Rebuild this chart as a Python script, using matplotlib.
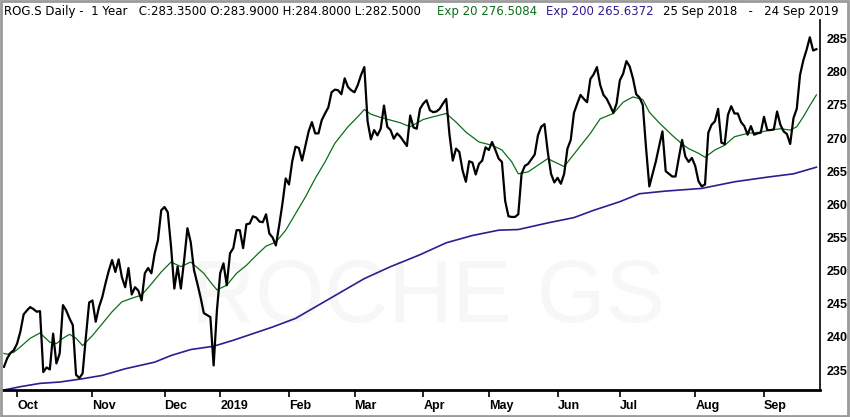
import numpy as np
import pandas as pd
import matplotlib
matplotlib.use('Agg')
import matplotlib.pyplot as plt
from matplotlib.patches import Rectangle

# Trading days at SIX (Swiss exchange), 25 Sep 2018 - 24 Sep 2019
holidays = ['2018-12-24', '2018-12-25', '2018-12-26', '2018-12-31',
            '2019-01-01', '2019-01-02', '2019-04-19', '2019-04-22',
            '2019-05-01', '2019-05-30', '2019-06-10', '2019-08-01']
days = pd.bdate_range('2018-09-25', '2019-09-24')
days = days[~days.isin(pd.to_datetime(holidays))]

# daily closes
close = [
    235.5, 236.8, 237.6, 238.0, 239.0, 240.8, 243.4, 244.0, 244.5, 244.2,
    243.8, 243.9, 234.7, 235.4, 235.1, 240.5, 236.0, 237.5, 244.8, 244.0,
    242.8, 241.8, 234.3, 233.8, 234.5, 240.0, 245.2, 245.5, 242.3, 244.5,
    246.0, 248.1, 250.0, 251.6, 249.8, 251.7, 249.0, 247.5, 250.4, 246.4,
    247.5, 247.0, 245.5, 249.6, 250.4, 249.6, 252.6, 254.6, 259.1, 259.6,
    258.8, 253.6, 247.3, 250.6, 247.3, 251.6, 256.4, 254.3, 250.1, 248.1,
    246.0, 243.6, 243.3, 243.0, 235.7, 244.0, 249.6, 251.1, 247.8, 252.6,
    253.4, 256.1, 256.1, 253.4, 257.0, 257.1, 258.2, 258.0, 257.4, 257.3,
    258.5, 255.6, 255.0, 253.8, 256.8, 260.1, 263.9, 263.0, 266.5, 268.7,
    268.5, 266.6, 268.8, 271.0, 272.4, 270.7, 270.7, 272.7, 273.7, 274.6,
    276.9, 277.3, 277.2, 276.6, 279.0, 277.7, 277.2, 276.9, 278.0, 279.5,
    280.7, 272.5, 269.8, 271.2, 270.4, 271.4, 274.9, 271.7, 271.2, 269.9,
    270.7, 270.2, 269.5, 268.8, 273.4, 271.6, 271.4, 274.4, 275.2, 275.7,
    274.2, 273.9, 274.0, 274.4, 275.2, 275.9, 270.5, 266.6, 268.4, 267.9,
    265.1, 263.4, 266.5, 266.3, 264.5, 266.1, 266.6, 268.6, 268.2, 269.4,
    268.2, 266.9, 266.4, 260.5, 258.2, 258.1, 258.1, 258.5, 264.6, 265.8,
    266.1, 266.8, 267.5, 270.4, 271.7, 272.1, 267.9, 264.6, 263.3, 264.0,
    263.1, 264.6, 268.4, 269.7, 273.8, 275.2, 276.5, 275.9, 275.4, 278.9,
    279.6, 280.7, 278.0, 276.5, 275.9, 274.9, 273.8, 275.2, 278.7, 279.7,
    281.6, 280.8, 279.0, 276.6, 276.1, 275.0, 268.5, 262.7, 264.6, 266.5,
    268.8, 271.0, 265.0, 264.6, 264.2, 264.2, 267.0, 269.7, 267.2, 266.4,
    267.0, 265.8, 263.5, 262.7, 263.0, 270.8, 272.0, 272.5, 274.4, 269.3,
    269.1, 273.5, 274.8, 273.7, 273.7, 272.4, 271.8, 270.5, 271.8, 270.5,
    270.7, 270.8, 273.2, 271.2, 271.2, 271.3, 274.0, 272.0, 271.0, 270.6,
    269.1, 273.0, 274.4, 279.5, 281.7, 283.3, 285.2, 283.2, 283.4,
]

# Exp 20 read at some of the trading days (day number, value)
ema20_day = [0, 1, 3, 5, 8, 11, 14, 16, 18, 20, 22, 24, 27, 30, 33, 36, 40, 42,
             45, 48, 51, 54, 57, 61, 63, 65, 68, 71, 74, 77, 80, 83, 86, 89, 92,
             95, 98, 101, 105, 108, 110, 112, 115, 118, 121, 124, 128, 131, 135,
             138, 141, 145, 149, 152, 155, 157, 160, 163, 166, 168, 171, 175,
             179, 182, 186, 189, 192, 195, 197, 200, 204, 207, 209, 212, 214,
             217, 220, 223, 227, 231, 234, 237, 240, 242, 244, 246, 248]
ema20 = [237.5, 237.4, 237.7, 238.5, 239.8, 240.6, 239.2, 239.0, 239.8, 240.4,
         239.8, 238.7, 240.2, 242.0, 243.8, 245.3, 246.0, 246.3, 248.0, 249.8,
         251.3, 250.6, 251.3, 249.6, 248.3, 247.1, 247.8, 249.6, 250.8, 252.3,
         253.7, 254.3, 256.1, 258.6, 261.1, 263.9, 266.4, 269.2, 271.7, 273.2,
         274.3, 273.6, 273.1, 272.7, 272.3, 271.7, 272.8, 273.2, 273.7, 272.4,
         270.9, 269.4, 268.9, 268.2, 266.4, 264.6, 264.9, 265.9, 266.9, 266.4,
         265.7, 268.2, 270.7, 272.9, 273.7, 275.4, 276.2, 275.8, 273.9, 272.3,
         270.4, 269.1, 268.4, 267.7, 267.1, 268.2, 268.9, 270.2, 270.7, 270.9,
         271.2, 271.4, 271.2, 271.7, 273.2, 274.9, 276.5]

# Exp 200
ema200_day = [0, 5, 11, 17, 24, 30, 37, 46, 51, 57, 64, 70, 76, 82, 89, 96, 103,
              110, 118, 127, 135, 143, 151, 157, 166, 174, 180, 188, 194, 202,
              213, 223, 233, 241, 248]
ema200 = [232.0, 232.5, 233.0, 233.2, 233.7, 234.2, 235.2, 236.2, 237.2, 238.1,
          238.6, 239.5, 240.5, 241.5, 242.8, 244.8, 246.8, 248.8, 250.6, 252.4,
          254.2, 255.3, 256.1, 256.2, 257.2, 258.0, 259.1, 260.4, 261.6, 262.0,
          262.4, 263.4, 264.1, 264.6, 265.6]

month_names = ['Oct', 'Nov', 'Dec', '2019', 'Feb', 'Mar', 'Apr', 'May', 'Jun',
               'Jul', 'Aug', 'Sep']
price_ticks = [235, 240, 245, 250, 255, 260, 265, 270, 275, 280, 285]

green = '#0b6e1a'
purple = '#341a8e'

x = np.arange(len(days))
ym = days.to_period('M')
month_start = [i for i in range(1, len(days)) if ym[i] != ym[i - 1]]

fig = plt.figure(figsize=(8.5, 4.17), dpi=100)
ax = fig.add_axes([3 / 850, 1 - 390 / 417, 817 / 850, 370 / 417])

ax.text(0.52, 0.245, 'ROCHE GS', transform=ax.transAxes, ha='center',
        va='center', fontsize=64, color='#f7f7f7', zorder=0,
        family='Liberation Sans')

ax.plot(np.array(ema200_day), ema200, color=purple, lw=1.2, zorder=2)
ax.plot(np.array(ema20_day), ema20, color=green, lw=0.9, zorder=3)
ax.plot(x, close, color='black', lw=1.6, zorder=4)

ax.set_xlim(-0.3, 249.1)
ax.set_ylim(232.0, 287.8)

for s in ['top', 'left']:
    ax.spines[s].set_visible(False)
ax.spines['bottom'].set_linewidth(2)
ax.spines['right'].set_linewidth(1.2)

ax.yaxis.tick_right()
ax.set_yticks(price_ticks)
ax.set_yticklabels([str(t) for t in price_ticks])
ax.tick_params(axis='y', direction='out', length=0, pad=5, labelsize=9)
ax.set_xticks(month_start)
ax.set_xticklabels(month_names, ha='left')
ax.tick_params(axis='x', direction='out', length=5, width=1.2, pad=2,
               labelsize=9)
for lab in ax.get_xticklabels() + ax.get_yticklabels():
    lab.set_fontweight('bold')
    lab.set_family('Liberation Sans')

# header
yh = 1 - 12 / 417
fig.text(4 / 850, yh, 'ROG.S Daily -  1 Year   C:283.3500 O:283.9000 '
         'H:284.8000 L:282.5000', fontsize=8.5, va='center')
fig.text(437 / 850, yh, 'Exp 20 276.5084', fontsize=8.5, va='center',
         color=green)
fig.text(546 / 850, yh, 'Exp 200 265.6372', fontsize=8.5, va='center',
         color=purple)
fig.text(663 / 850, yh, '25 Sep 2018   -   24 Sep 2019', fontsize=8.5,
         va='center')

fig.patches.append(Rectangle((0.001, 0.002), 0.997, 0.996,
                             transform=fig.transFigure, fill=False,
                             edgecolor='#9a9a9a', lw=2))

fig.savefig('out.png', dpi=100)
